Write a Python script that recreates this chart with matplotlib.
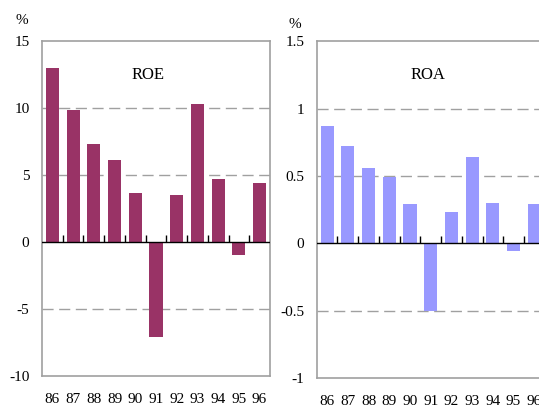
# Dos paneles de barras: ROE y ROA por año
import matplotlib.pyplot as plt
import numpy as np

plt.rcParams['font.family'] = ['Liberation Serif', 'DejaVu Serif']

# Datos
anios = ['86', '87', '88', '89', '90', '91', '92', '93', '94', '95', '96']
roe = [13.0, 9.9, 7.35, 6.15, 3.7, -7.1, 3.5, 10.3, 4.7, -0.95, 4.4]
roa = [0.87, 0.72, 0.56, 0.495, 0.29, -0.5, 0.23, 0.64, 0.30, -0.06, 0.29]

color_roe = '#993366'
color_roa = '#9999ff'
gris = '#a0a0a0'

fig = plt.figure(figsize=(5.39, 4.05), dpi=100)
ax1 = fig.add_axes([0.0779, 0.0716, 0.423, 0.826])
ax2 = fig.add_axes([0.5876, 0.0667, 0.423, 0.831])


def dibujar_panel(ax, valores, color, titulo, ylim, yticks, yticklabels, grid_vals, tx):
    x = np.arange(len(anios))
    ax.bar(x, valores, width=0.63, color=color, zorder=2)
    ax.set_xlim(-0.5, len(anios) - 0.5)
    ax.set_ylim(*ylim)
    for g in grid_vals:
        ax.axhline(g, color=gris, lw=1, dashes=(8, 4), zorder=1)
    ax.axhline(0, color='black', lw=1, zorder=3)
    # marcas pequeñas hacia arriba entre categorías
    limites = np.arange(0.5, len(anios) - 1, 1.0)
    ax.plot(limites, np.zeros_like(limites), ls='none', marker=2,
            markersize=5, color='black', mew=1, zorder=3)
    ax.set_xticks(x)
    ax.set_xticklabels(anios, fontsize=11)
    ax.set_yticks(yticks)
    ax.set_yticklabels(yticklabels, fontsize=11)
    ax.tick_params(axis='x', length=0, pad=12)
    ax.tick_params(axis='y', length=0, pad=9)
    for s in ax.spines.values():
        s.set_color(gris)
        s.set_linewidth(1.2)
    ax.text(tx, 0.9, titulo, transform=ax.transAxes, ha='center', va='center',
            fontsize=12)


dibujar_panel(ax1, roe, color_roe, 'ROE', (-10, 15),
              [-10, -5, 0, 5, 10, 15], ['-10', '-5', '0', '5', '10', '15'],
              [-5, 5, 10], 0.465)
dibujar_panel(ax2, roa, color_roa, 'ROA', (-1, 1.5),
              [-1, -0.5, 0, 0.5, 1, 1.5], ['-1', '-0.5', '0', '0.5', '1', '1.5'],
              [-0.5, 0.5, 1], 0.49)

fig.text(22 / 539, 1 - 21 / 405, '%', ha='center', va='center', fontsize=11)
fig.text(295 / 539, 1 - 24 / 405, '%', ha='center', va='center', fontsize=11)

fig.savefig('out.png', dpi=100)
